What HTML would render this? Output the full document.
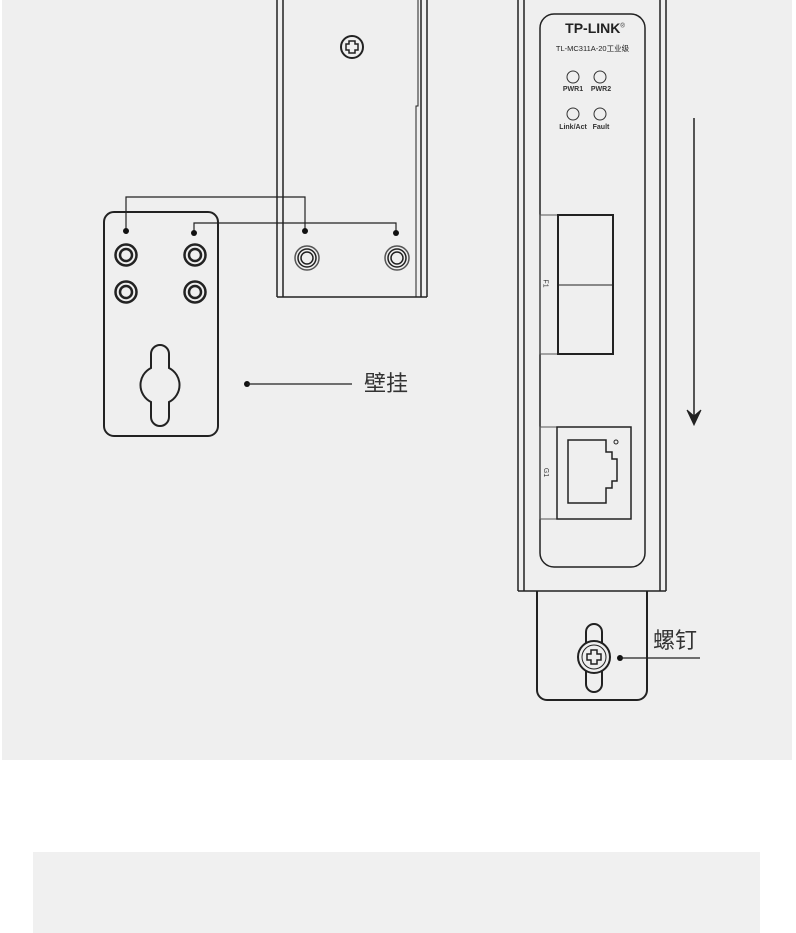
<!DOCTYPE html>
<html><head><meta charset="utf-8"><style>
html,body{margin:0;padding:0;background:#fff;}
body{width:796px;height:933px;position:relative;overflow:hidden;}
.t{font-family:"Liberation Sans","Noto Sans CJK SC",sans-serif;}
</style></head><body>
<div style="position:absolute;left:2px;top:0;width:790px;height:760px;background:#efefef;"></div>
<div style="position:absolute;left:33px;top:852px;width:727px;height:81px;background:#f0f0f0;"></div>
<svg style="position:absolute;left:0;top:0" width="796" height="933" fill="none" stroke="#222" stroke-width="1.5">
<line x1="277" y1="0" x2="277" y2="297"/><line x1="283" y1="0" x2="283" y2="297"/>
<line x1="277" y1="297" x2="427" y2="297"/>
<line x1="427" y1="0" x2="427" y2="297"/><line x1="421" y1="0" x2="421" y2="297"/>
<polyline points="418,0 418,106 416,106 416,297" stroke-width="1"/>
<circle cx="352" cy="47" r="11" stroke-width="2"/>
<path d="M349 41h6v3h3v6h-3v3h-6v-3h-3v-6h3z" stroke-width="1.5"/>
<circle cx="307" cy="258" r="12" stroke="#555"/><circle cx="307" cy="258" r="9"/><circle cx="307" cy="258" r="6"/>
<circle cx="397" cy="258" r="12" stroke="#555"/><circle cx="397" cy="258" r="9"/><circle cx="397" cy="258" r="6"/>
<rect x="104" y="212" width="114" height="224" rx="10" stroke-width="2"/>
<g stroke-width="2.5"><circle cx="126" cy="255" r="10.5"/><circle cx="126" cy="255" r="6"/>
<circle cx="195" cy="255" r="10.5"/><circle cx="195" cy="255" r="6"/>
<circle cx="126" cy="292" r="10.5"/><circle cx="126" cy="292" r="6"/>
<circle cx="195" cy="292" r="10.5"/><circle cx="195" cy="292" r="6"/></g>
<path d="M151 368 V354 a9 9 0 0 1 18 0 V368 A19 19 0 0 1 169 402 V417 a9 9 0 0 1 -18 0 V402 A19 19 0 0 1 151 368Z" stroke-width="2"/>
<polyline points="126,231 126,197 305,197 305,231" stroke-width="1.2"/>
<polyline points="194,233 194,223 396,223 396,233" stroke-width="1.2"/>
<g fill="#111" stroke="none"><circle cx="126" cy="231" r="3"/><circle cx="194" cy="233" r="3"/><circle cx="305" cy="231" r="3"/><circle cx="396" cy="233" r="3"/>
<circle cx="247" cy="384" r="3"/><circle cx="620" cy="658" r="3"/></g>
<line x1="247" y1="384" x2="352" y2="384" stroke-width="1.2"/>
<line x1="518" y1="0" x2="518" y2="591"/><line x1="524" y1="0" x2="524" y2="591"/>
<line x1="660" y1="0" x2="660" y2="591"/><line x1="666" y1="0" x2="666" y2="591"/>
<line x1="518" y1="591" x2="666" y2="591"/>
<rect x="540" y="14" width="105" height="553" rx="14"/>
<g stroke-width="1" stroke="#333"><circle cx="573" cy="77" r="6"/><circle cx="600" cy="77" r="6"/><circle cx="573" cy="114" r="6"/><circle cx="600" cy="114" r="6"/></g>
<rect x="540" y="215" width="73" height="139" stroke-width="1" stroke="#555"/>
<rect x="558" y="215" width="55" height="139" stroke-width="2"/>
<line x1="558" y1="285" x2="613" y2="285" stroke-width="1"/>
<rect x="540" y="427" width="91" height="92" stroke-width="1" stroke="#555"/>
<rect x="557" y="427" width="74" height="92" stroke-width="1.5"/>
<path d="M568 440 H606 V452 H612 V459 H617 V481 H612 V488 H606 V503 H568Z" stroke-width="1.5"/>
<circle cx="616" cy="442" r="2" stroke-width="1"/>
<line x1="694" y1="118" x2="694" y2="420" stroke-width="1.5"/>
<path d="M687 410 L694 425 L701 410 L694 416Z" fill="#222" stroke-width="1"/>
<path d="M537 591 V690 a10 10 0 0 0 10 10 H637 a10 10 0 0 0 10 -10 V591" stroke-width="2"/>
<path d="M586 632 a8 8 0 0 1 16 0 V684 a8 8 0 0 1 -16 0Z" stroke-width="2"/>
<circle cx="594" cy="657" r="16" stroke-width="2" fill="#efefef"/><circle cx="594" cy="657" r="12" stroke-width="1"/>
<path d="M591 650h6v4h4v6h-4v4h-6v-4h-4v-6h4z" stroke-width="1.5"/>
<line x1="620" y1="658" x2="700" y2="658" stroke-width="1.2"/>
</svg>
<div class="t" style="position:absolute;left:364px;top:371px;font-size:22px;color:#333;line-height:26px;">壁挂</div>
<div class="t" style="position:absolute;left:653px;top:628px;font-size:22px;color:#333;line-height:26px;">螺钉</div>
<div class="t" style="position:absolute;left:540px;top:20px;width:110px;text-align:center;font-size:14px;font-weight:bold;color:#222;">TP-LINK<sup style="font-size:6px;font-weight:normal">®</sup></div>
<div class="t" style="position:absolute;left:540px;top:43px;width:105px;text-align:center;font-size:7.5px;color:#222;">TL-MC311A-20工业级</div>
<div class="t" style="position:absolute;left:558px;top:86px;width:30px;text-align:center;font-size:7px;font-weight:bold;color:#333;">PWR1</div>
<div class="t" style="position:absolute;left:586px;top:86px;width:30px;text-align:center;font-size:7px;font-weight:bold;color:#333;">PWR2</div>
<div class="t" style="position:absolute;left:548px;top:124px;width:50px;text-align:center;font-size:7px;font-weight:bold;color:#333;">Link/Act</div>
<div class="t" style="position:absolute;left:586px;top:124px;width:30px;text-align:center;font-size:7px;font-weight:bold;color:#333;">Fault</div>
<div class="t" style="position:absolute;left:541px;top:280px;font-size:7px;color:#333;transform:rotate(90deg);">F1</div>
<div class="t" style="position:absolute;left:541px;top:469px;font-size:7px;color:#333;transform:rotate(90deg);">G1</div>
</body></html>
